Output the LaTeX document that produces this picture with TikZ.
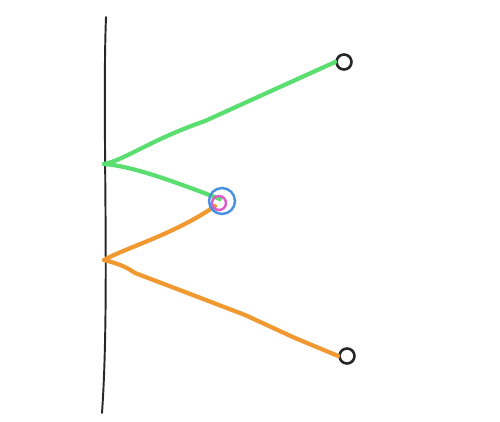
\documentclass[tikz,border=0pt]{standalone}
\usepackage{xcolor}
\definecolor{sketchgreen}{RGB}{90,222,112}
\definecolor{sketchorange}{RGB}{240,153,48}
\definecolor{sketchblue}{RGB}{74,144,226}
\definecolor{sketchpink}{RGB}{222,90,200}
\definecolor{sketchblack}{RGB}{40,40,40}
\tikzset{
    greenline/.style={draw=sketchgreen, line width=2.4pt, line cap=round, line join=round},
    orangeline/.style={draw=sketchorange, line width=2.4pt, line cap=round, line join=round},
    wallline/.style={draw=sketchblack, line width=1.1pt, line cap=round},
    endcircle/.style={circle, draw=sketchblack, line width=1.5pt, minimum width=0.26cm, minimum height=0.30cm, inner sep=0pt},
}
\begin{document}
\begin{tikzpicture}[x=0.02cm, y=-0.02cm]
    \useasboundingbox (0,0) rectangle (500,422);
            % wall
            \coordinate (walltop) at (106,17);
            \coordinate (wallbottom) at (102,413);
            \draw[wallline] (walltop) .. controls (102,120) and (110,300) .. (wallbottom);
            % meeting points on the wall
            \coordinate (greenapex) at (104,164);
            \coordinate (orangeapex) at (104,260);
            % end points
            \node[endcircle] (greenend) at (344,62) {};
            \node[endcircle] (orangeend) at (347,356) {};
            \coordinate (greentip) at (220,199);
            \coordinate (orangetip) at (215,206);
            % green rays
            \draw[greenline] (greenapex) .. controls (125,160) and (150,140) .. (205,121)
                -- (260,96) -- (greenend.west);
            \draw[greenline] (greenapex) .. controls (130,166) and (165,178) .. (greentip);
            % orange rays
            \draw[orangeline] (orangeapex) .. controls (125,248) and (175,234) .. (orangetip);
            \draw[orangeline] (orangeapex) .. controls (120,264) and (128,268) .. (135,273)
                -- (185,292) -- (245,315) -- (295,338) -- (orangeend.west);
            % image point
            \node[circle, draw=sketchpink, line width=1.4pt, minimum size=0.28cm, inner sep=0pt] (pinkring) at (219,203) {};
            \node[circle, draw=sketchblue, line width=1.4pt, minimum width=0.48cm, minimum height=0.52cm, inner sep=0pt] (bluering) at (222,201) {};
\end{tikzpicture}
\end{document}
